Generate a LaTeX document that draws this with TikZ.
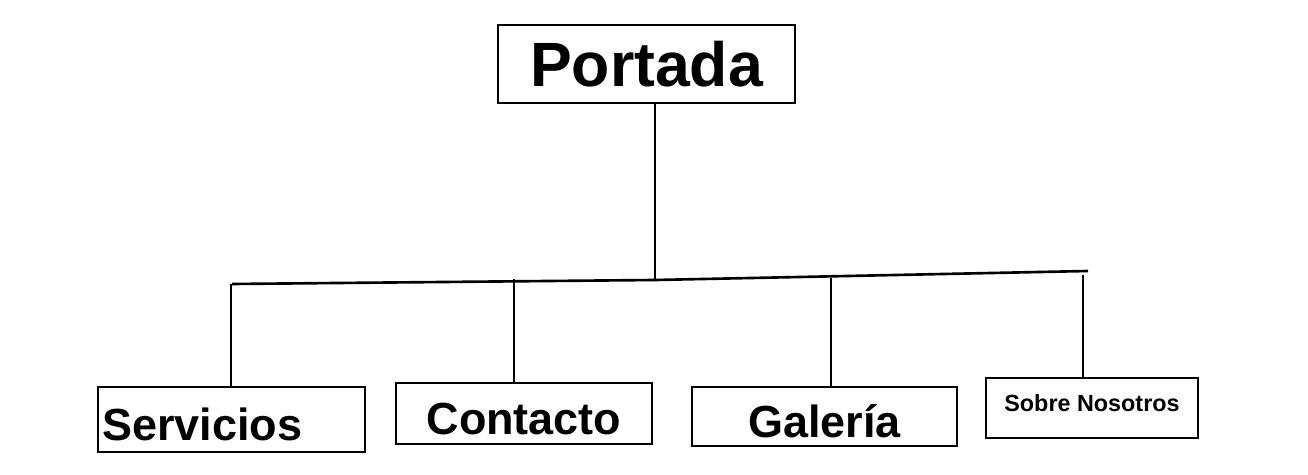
\documentclass[tikz,border=0pt]{standalone}
\usepackage{fontspec}
\setmainfont{Liberation Sans}

\tikzset{
  box/.style={draw, line width=1.6pt, inner sep=0pt, font=\bfseries\fontsize{25.6}{28}\selectfont},
  low/.style={text height=24pt, text depth=0pt},
  link/.style={line width=1.5pt}
}

\begin{document}
\begin{tikzpicture}[x=0.02cm,y=-0.02cm]
            \useasboundingbox (0,0) rectangle (1308,475);
            \node[box, minimum width=5.94cm, minimum height=1.56cm, font=\bfseries\fontsize{35.6}{38}\selectfont] at (646.5,64) (port) {Portada};
            \node[box, low, minimum width=5.34cm, minimum height=1.3cm, text width=5.18cm, align=left] at (231.5,419.5) (serv) {Servicios};
            \node[box, low, minimum width=5.12cm, minimum height=1.22cm] at (524,413.5) (cont) {Contacto};
            \node[box, low, minimum width=5.3cm, minimum height=1.18cm] at (824.5,416.5) (gal) {Galería};
            \node[box, minimum width=4.24cm, minimum height=1.2cm, font=\bfseries\fontsize{13.3}{15}\selectfont] at (1092,408) (sobre) {\raisebox{6pt}{Sobre Nosotros}};
            % bar under the top box
            \coordinate (barl) at (232,284);
            \coordinate (jn) at (655,280);
            \coordinate (barr) at (1088,271);
            \coordinate (t1) at (231,284);
            \coordinate (t2) at (514,279);
            \coordinate (t3) at (831,278);
            \coordinate (t4) at (1083,275);
            \draw[link] (port.south -| jn) -- (jn);
            \draw[link] (barl) -- (jn) -- (barr);
            \draw[link] (t1) -- (t1 |- serv.north);
            \draw[link] (t2) -- (t2 |- cont.north);
            \draw[link] (t3) -- (t3 |- gal.north);
            \draw[link] (t4) -- (t4 |- sobre.north);
        \end{tikzpicture}
\end{document}
